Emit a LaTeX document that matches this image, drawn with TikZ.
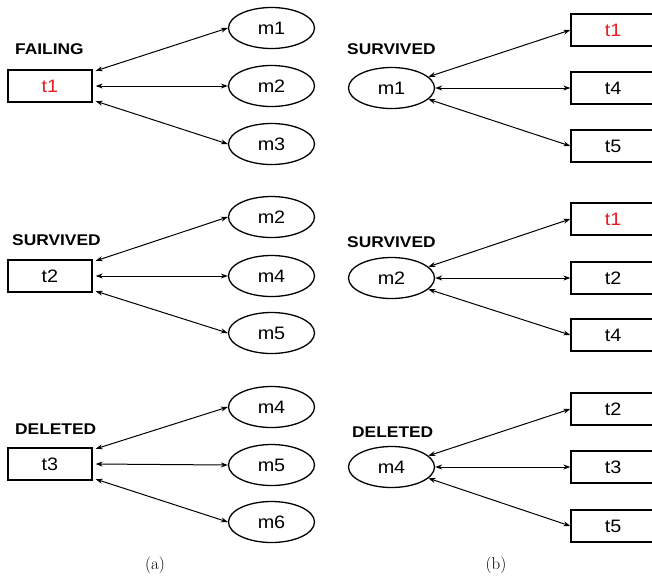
\documentclass[tikz,border=0pt]{standalone}
\usepackage{fontspec}
\newfontfamily\arialfont{Liberation Sans}
\usetikzlibrary{arrows.meta,shapes.geometric}
\definecolor{failred}{RGB}{232,28,36}
\newcommand{\hs}[1]{\scalebox{1.1}[1]{#1}}
\newcommand{\hl}[1]{\scalebox{1.12}[1]{#1}}
\tikzset{
  tbox/.style={draw, line width=1.3pt, minimum width=84pt, minimum height=32pt, inner sep=0pt,
    font=\arialfont\fontsize{18}{18}\selectfont},
  mell/.style={draw, ellipse, line width=1.3pt, minimum width=86pt, minimum height=41pt, inner sep=0pt,
    font=\arialfont\fontsize{18}{18}\selectfont},
  lbl/.style={anchor=west, inner sep=0pt, font=\arialfont\bfseries\fontsize{15.5}{15.5}\selectfont},
  link/.style={{Stealth[length=7pt,width=5pt]}-{Stealth[length=7pt,width=5pt]}, line width=1pt},
  capt/.style={inner sep=0pt, font=\fontsize{17}{17}\selectfont}
}
\begin{document}
\begin{tikzpicture}[x=1pt,y=-1pt]
\useasboundingbox (0,0) rectangle (652,581);
\clip (0,0) rectangle (652,581);

% ---------- (a) ----------
% group 1
\node[lbl] (aL1) at (15,49) {\hl{FAILING}};
\node[tbox, text=failred] (at1) at (50,86) {\hs{t1}};
\node[mell] (am1) at (271.5,28) {\hs{m1}};
\node[mell] (am2) at (271.5,86) {\hs{m2}};
\node[mell] (am3) at (271.5,144) {\hs{m3}};
\draw[link] ([xshift=3pt,yshift=-1.5pt]at1.north east) -- (am1.west);
\draw[link] ([xshift=3pt]at1.east) -- (am2.west);
\draw[link] ([xshift=3pt,yshift=1.5pt]at1.south east) -- (am3.west);

% group 2
\node[lbl] (aL2) at (12,240) {\hl{SURVIVED}};
\node[tbox] (at2) at (50,276) {\hs{t2}};
\node[mell] (am2b) at (271.5,217) {\hs{m2}};
\node[mell] (am4) at (271.5,276) {\hs{m4}};
\node[mell] (am5) at (271.5,333) {\hs{m5}};
\draw[link] ([xshift=3pt,yshift=-1.5pt]at2.north east) -- (am2b.west);
\draw[link] ([xshift=3pt]at2.east) -- (am4.west);
\draw[link] ([xshift=3pt,yshift=1.5pt]at2.south east) -- (am5.west);

% group 3
\node[lbl] (aL3) at (15,429) {\hl{DELETED}};
\node[tbox] (at3) at (50,464) {\hs{t3}};
\node[mell] (am4b) at (271.5,407) {\hs{m4}};
\node[mell] (am5b) at (271.5,465) {\hs{m5}};
\node[mell] (am6) at (271.5,522) {\hs{m6}};
\draw[link] ([xshift=3pt,yshift=-1.5pt]at3.north east) -- (am4b.west);
\draw[link] ([xshift=3pt]at3.east) -- (am5b.west);
\draw[link] ([xshift=3pt,yshift=1.5pt]at3.south east) -- (am6.west);

\node[capt] (capa) at (155,565) {(a)};

% ---------- (b) ----------
% group 1
\node[lbl] (bL1) at (347,49) {\hl{SURVIVED}};
\node[mell] (bm1) at (391.5,88) {\hs{m1}};
\node[tbox, text=failred] (bt1) at (613,30) {\hs{t1}};
\node[tbox] (bt4) at (613,88) {\hs{t4}};
\node[tbox] (bt5) at (613,146) {\hs{t5}};
\draw[link] (bm1.17) -- (bt1.west);
\draw[link] (bm1.east) -- (bt4.west);
\draw[link] (bm1.-17) -- (bt5.west);

% group 2
\node[lbl] (bL2) at (347,242) {\hl{SURVIVED}};
\node[mell] (bm2) at (391.5,278) {\hs{m2}};
\node[tbox, text=failred] (bt1b) at (613,219) {\hs{t1}};
\node[tbox] (bt2) at (613,278) {\hs{t2}};
\node[tbox] (bt4b) at (613,335) {\hs{t4}};
\draw[link] (bm2.17) -- (bt1b.west);
\draw[link] (bm2.east) -- (bt2.west);
\draw[link] (bm2.-17) -- (bt4b.west);

% group 3
\node[lbl] (bL3) at (352,432) {\hl{DELETED}};
\node[mell] (bm4) at (391.5,467) {\hs{m4}};
\node[tbox] (bt2b) at (613,409) {\hs{t2}};
\node[tbox] (bt3) at (613,467) {\hs{t3}};
\node[tbox] (bt5b) at (613,526) {\hs{t5}};
\draw[link] (bm4.17) -- (bt2b.west);
\draw[link] (bm4.east) -- (bt3.west);
\draw[link] (bm4.-17) -- (bt5b.west);

\node[capt] (capb) at (496,565) {(b)};
\end{tikzpicture}
\end{document}
